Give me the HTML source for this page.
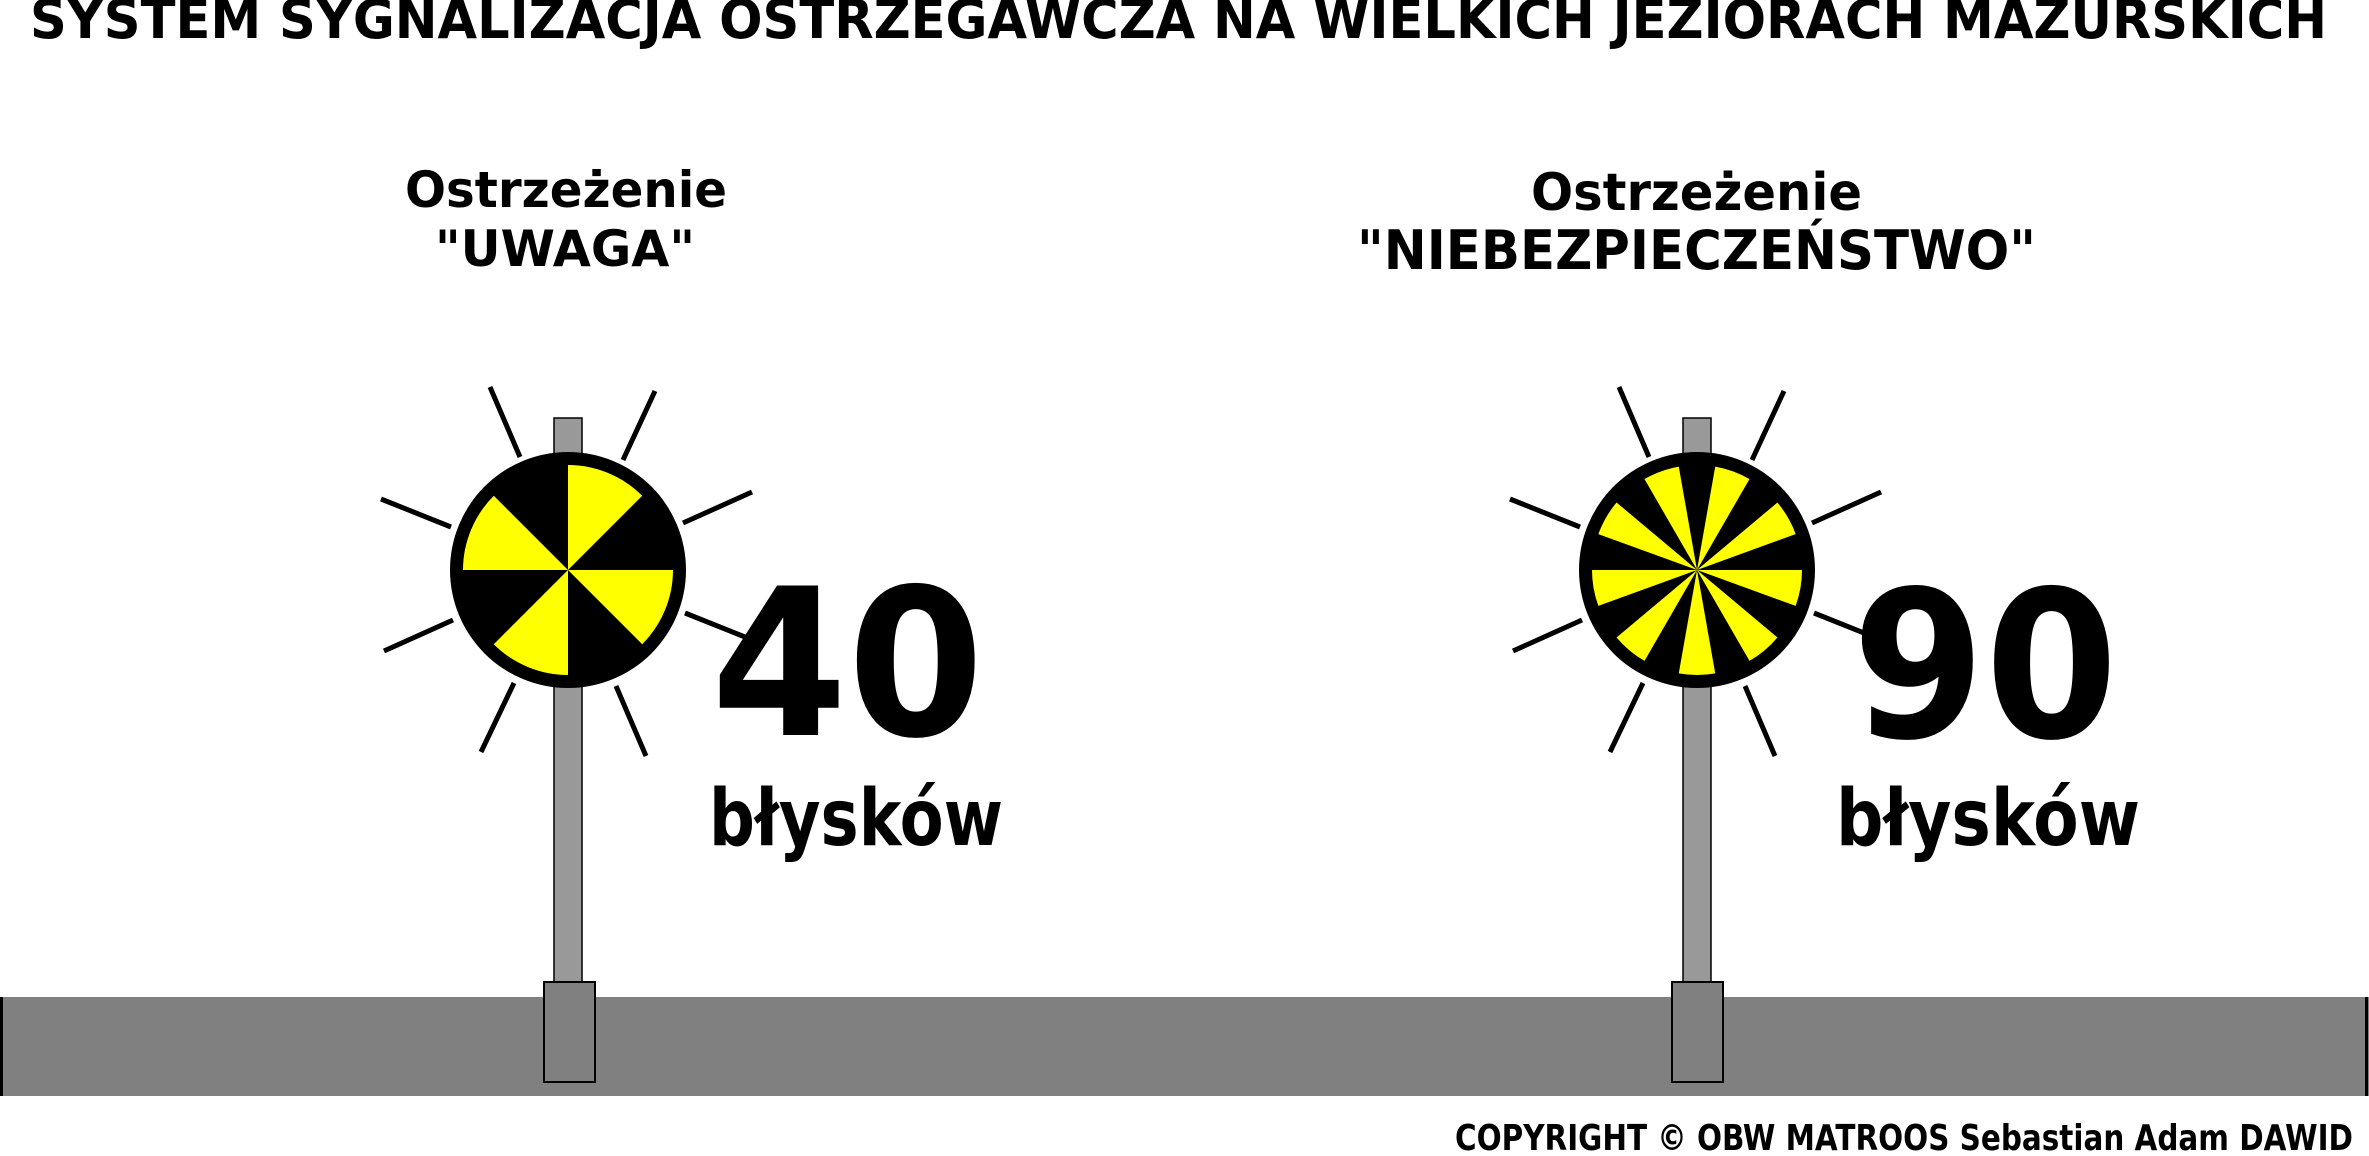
<!DOCTYPE html>
<html><head><meta charset="utf-8"><style>
html,body{margin:0;padding:0;background:#fff;}
svg{display:block;}
text{font-family:"DejaVu Sans","Liberation Sans",sans-serif;font-weight:bold;fill:#000;}
</style></head><body>
<svg width="2369" height="1156" viewBox="0 0 2369 1156" xmlns="http://www.w3.org/2000/svg">
<defs>
<g id="rays" stroke="#000" stroke-width="5">
<line x1="-78" y1="-183" x2="-48" y2="-113"/>
<line x1="87" y1="-179" x2="55" y2="-110"/>
<line x1="-187" y1="-71" x2="-117" y2="-43"/>
<line x1="184" y1="-78" x2="115" y2="-47"/>
<line x1="-184" y1="81" x2="-115" y2="50"/>
<line x1="187" y1="71" x2="117" y2="43"/>
<line x1="-87" y1="182" x2="-54" y2="113"/>
<line x1="78" y1="186" x2="48" y2="116"/>
</g>
</defs>
<text x="30" y="38" font-size="54" textLength="2297" lengthAdjust="spacingAndGlyphs">SYSTEM SYGNALIZACJA OSTRZEGAWCZA NA WIELKICH JEZIORACH MAZURSKICH</text>

<text x="405" y="207" font-size="50" textLength="322" lengthAdjust="spacingAndGlyphs">Ostrzeżenie</text>
<text x="435" y="266" font-size="50" textLength="260" lengthAdjust="spacingAndGlyphs">"UWAGA"</text>
<text x="1531" y="210" font-size="52" textLength="331" lengthAdjust="spacingAndGlyphs">Ostrzeżenie</text>
<text x="1357" y="269" font-size="54" textLength="679" lengthAdjust="spacingAndGlyphs">"NIEBEZPIECZEŃSTWO"</text>

<rect x="0" y="997" width="2369" height="99" fill="#808080"/>
<rect x="0" y="997" width="3" height="99" fill="#000"/>
<rect x="2365" y="997" width="3" height="99" fill="#000"/>

<rect x="554" y="418" width="28" height="566" fill="#999" stroke="#000" stroke-width="1.5"/>
<rect x="544" y="982" width="51" height="100" fill="#808080" stroke="#000" stroke-width="2"/>
<g transform="translate(568,570)"><use href="#rays"/></g>
<circle cx="568" cy="570" r="118" fill="#000"/>
<g fill="#ff0">
<path d="M568 570 L568 465 A105 105 0 0 1 642.2 495.8 Z"/>
<path d="M568 570 L673 570 A105 105 0 0 1 642.2 644.2 Z"/>
<path d="M568 570 L568 675 A105 105 0 0 1 493.8 644.2 Z"/>
<path d="M568 570 L463 570 A105 105 0 0 1 493.8 495.8 Z"/>
</g>
<text x="711" y="735" font-size="205" textLength="273" lengthAdjust="spacingAndGlyphs">40</text>
<text x="709" y="845" font-size="78" textLength="294" lengthAdjust="spacingAndGlyphs">błysków</text>

<rect x="1683" y="418" width="28" height="566" fill="#999" stroke="#000" stroke-width="1.5"/>
<rect x="1672" y="982" width="51" height="100" fill="#808080" stroke="#000" stroke-width="2"/>
<g transform="translate(1697,570)"><use href="#rays"/></g>
<circle cx="1697" cy="570" r="118" fill="#000"/>
<g fill="#ff0">
<path d="M1697 570 L1802 570 A105 105 0 0 1 1795.67 605.91 Z"/>
<path d="M1697 570 L1777.43 637.49 A105 105 0 0 1 1749.5 660.93 Z"/>
<path d="M1697 570 L1715.23 673.4 A105 105 0 0 1 1678.77 673.4 Z"/>
<path d="M1697 570 L1644.5 660.93 A105 105 0 0 1 1616.57 637.49 Z"/>
<path d="M1697 570 L1598.33 605.91 A105 105 0 0 1 1592 570 Z"/>
<path d="M1697 570 L1598.33 534.09 A105 105 0 0 1 1616.57 502.51 Z"/>
<path d="M1697 570 L1644.5 479.07 A105 105 0 0 1 1678.77 466.6 Z"/>
<path d="M1697 570 L1715.23 466.6 A105 105 0 0 1 1749.5 479.07 Z"/>
<path d="M1697 570 L1777.43 502.51 A105 105 0 0 1 1795.67 534.09 Z"/>
</g>
<text x="1852" y="737" font-size="205" textLength="266" lengthAdjust="spacingAndGlyphs">90</text>
<text x="1836" y="845" font-size="78" textLength="304" lengthAdjust="spacingAndGlyphs">błysków</text>

<text x="1455" y="1150" font-size="36" textLength="898" lengthAdjust="spacingAndGlyphs">COPYRIGHT © OBW MATROOS Sebastian Adam DAWID</text>
</svg>
</body></html>
